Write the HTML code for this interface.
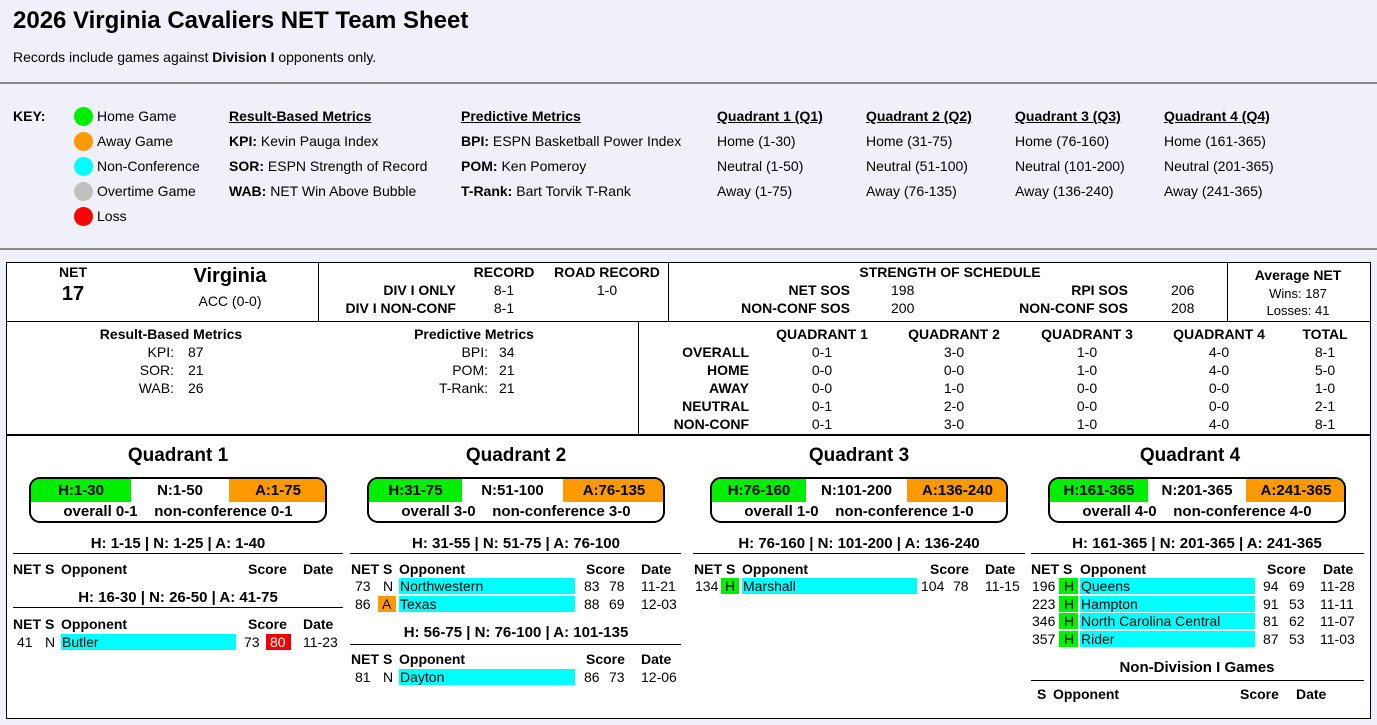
<!DOCTYPE html>
<html><head><meta charset="utf-8">
<style>
*{margin:0;padding:0;box-sizing:border-box}
body{width:1377px;height:725px;background:#f0f0fa;font-family:"Liberation Sans",sans-serif;font-size:14px;color:#000;position:relative;overflow:hidden}
.a{position:absolute;white-space:nowrap;line-height:18px}
.b{font-weight:bold}
.c{text-align:center;width:300px}
.r{text-align:right;width:300px}
.u{text-decoration:underline}
.rh{font-size:15px}
.dot{position:absolute;width:19px;height:19px;border-radius:50%;left:74px}
.hl{position:absolute;height:2px;background:#888;left:0;width:1377px}
.ln{position:absolute;background:#000}
.bar{position:absolute;background:#00ffff;height:16px}
.pill{position:absolute;border:2px solid #000;border-radius:11px;background:#fff;height:46px;overflow:hidden}
.seg{position:absolute;top:0;height:23px;line-height:23px;text-align:center;font-weight:bold;font-size:15px}
.sub{position:absolute;top:23px;height:20px;line-height:20px;width:100%;text-align:center;font-weight:bold;font-size:15px}
</style></head><body>
<div class="a b" style="left:13px;top:7px;font-size:24px;line-height:28px">2026 Virginia Cavaliers NET Team Sheet</div>
<div class="a" style="left:13px;top:48px">Records include games against <b>Division I</b> opponents only.</div>
<div class="hl" style="top:82px"></div>
<div class="hl" style="top:248px"></div>

<div class="a b" style="left:13px;top:107px">KEY:</div>
<div class="dot" style="top:107px;background:#00ee00"></div>
<div class="dot" style="top:132px;background:#ff9900"></div>
<div class="dot" style="top:157px;background:#00ffff"></div>
<div class="dot" style="top:182px;background:#c0c0c0"></div>
<div class="dot" style="top:207px;background:#ff0000"></div>
<div class="a" style="left:97px;top:107px">Home Game</div>
<div class="a" style="left:97px;top:132px">Away Game</div>
<div class="a" style="left:97px;top:157px">Non-Conference</div>
<div class="a" style="left:97px;top:182px">Overtime Game</div>
<div class="a" style="left:97px;top:207px">Loss</div>

<div class="a b u" style="left:229px;top:107px">Result-Based Metrics</div>
<div class="a" style="left:229px;top:132px"><b>KPI:</b> Kevin Pauga Index</div>
<div class="a" style="left:229px;top:157px"><b>SOR:</b> ESPN Strength of Record</div>
<div class="a" style="left:229px;top:182px"><b>WAB:</b> NET Win Above Bubble</div>
<div class="a b u" style="left:461px;top:107px">Predictive Metrics</div>
<div class="a" style="left:461px;top:132px"><b>BPI:</b> ESPN Basketball Power Index</div>
<div class="a" style="left:461px;top:157px"><b>POM:</b> Ken Pomeroy</div>
<div class="a" style="left:461px;top:182px"><b>T-Rank:</b> Bart Torvik T-Rank</div>

<div class="a b u" style="left:717px;top:107px">Quadrant 1 (Q1)</div>
<div class="a" style="left:717px;top:132px">Home (1-30)</div>
<div class="a" style="left:717px;top:157px">Neutral (1-50)</div>
<div class="a" style="left:717px;top:182px">Away (1-75)</div>
<div class="a b u" style="left:866px;top:107px">Quadrant 2 (Q2)</div>
<div class="a" style="left:866px;top:132px">Home (31-75)</div>
<div class="a" style="left:866px;top:157px">Neutral (51-100)</div>
<div class="a" style="left:866px;top:182px">Away (76-135)</div>
<div class="a b u" style="left:1015px;top:107px">Quadrant 3 (Q3)</div>
<div class="a" style="left:1015px;top:132px">Home (76-160)</div>
<div class="a" style="left:1015px;top:157px">Neutral (101-200)</div>
<div class="a" style="left:1015px;top:182px">Away (136-240)</div>
<div class="a b u" style="left:1164px;top:107px">Quadrant 4 (Q4)</div>
<div class="a" style="left:1164px;top:132px">Home (161-365)</div>
<div class="a" style="left:1164px;top:157px">Neutral (201-365)</div>
<div class="a" style="left:1164px;top:182px">Away (241-365)</div>

<div style="position:absolute;left:6px;top:262px;width:1365px;height:457px;background:#fff;border:1px solid #000"></div>
<div class="ln" style="left:6px;top:321px;width:1365px;height:1px"></div>
<div class="ln" style="left:6px;top:434px;width:1365px;height:2px"></div>
<div class="ln" style="left:318px;top:262px;width:1px;height:59px"></div>
<div class="ln" style="left:668px;top:262px;width:1px;height:59px"></div>
<div class="ln" style="left:1227px;top:262px;width:1px;height:59px"></div>
<div class="ln" style="left:638px;top:321px;width:1px;height:114px"></div>

<div class="a b c" style="left:-77px;top:263px">NET</div>
<div class="a b c" style="left:-77px;top:283px;font-size:20px;line-height:22px">17</div>
<div class="a b c" style="left:80px;top:265px;font-size:20px;line-height:22px">Virginia</div>
<div class="a c" style="left:80px;top:292px">ACC (0-0)</div>
<div class="a b c" style="left:354px;top:263px">RECORD</div>
<div class="a b c" style="left:457px;top:263px">ROAD RECORD</div>
<div class="a b r" style="left:156px;top:281px">DIV I ONLY</div>
<div class="a b r" style="left:156px;top:299px">DIV I NON-CONF</div>
<div class="a c" style="left:354px;top:281px">8-1</div>
<div class="a c" style="left:354px;top:299px">8-1</div>
<div class="a c" style="left:457px;top:281px">1-0</div>
<div class="a b c" style="left:800px;top:263px">STRENGTH OF SCHEDULE</div>
<div class="a b r" style="left:550px;top:281px">NET SOS</div>
<div class="a b r" style="left:550px;top:299px">NON-CONF SOS</div>
<div class="a" style="left:891px;top:281px">198</div>
<div class="a" style="left:891px;top:299px">200</div>
<div class="a b r" style="left:828px;top:281px">RPI SOS</div>
<div class="a b r" style="left:828px;top:299px">NON-CONF SOS</div>
<div class="a" style="left:1171px;top:281px">206</div>
<div class="a" style="left:1171px;top:299px">208</div>
<div class="a b c" style="left:1148px;top:266px">Average NET</div>
<div class="a c" style="left:1148px;top:285px;font-size:13px">Wins: 187</div>
<div class="a c" style="left:1148px;top:302px;font-size:13px">Losses: 41</div>

<div class="a b c" style="left:21px;top:325px">Result-Based Metrics</div>
<div class="a r" style="left:-126px;top:343px">KPI:</div>
<div class="a r" style="left:-126px;top:361px">SOR:</div>
<div class="a r" style="left:-126px;top:379px">WAB:</div>
<div class="a" style="left:188px;top:343px">87</div>
<div class="a" style="left:188px;top:361px">21</div>
<div class="a" style="left:188px;top:379px">26</div>
<div class="a b c" style="left:324px;top:325px">Predictive Metrics</div>
<div class="a r" style="left:188px;top:343px">BPI:</div>
<div class="a r" style="left:188px;top:361px">POM:</div>
<div class="a r" style="left:188px;top:379px">T-Rank:</div>
<div class="a" style="left:499px;top:343px">34</div>
<div class="a" style="left:499px;top:361px">21</div>
<div class="a" style="left:499px;top:379px">21</div>

<div class="a b c" style="left:672px;top:325px">QUADRANT 1</div>
<div class="a b c" style="left:804px;top:325px">QUADRANT 2</div>
<div class="a b c" style="left:937px;top:325px">QUADRANT 3</div>
<div class="a b c" style="left:1069px;top:325px">QUADRANT 4</div>
<div class="a b c" style="left:1175px;top:325px">TOTAL</div>
<div class="a b r" style="left:449px;top:343px">OVERALL</div>
<div class="a b r" style="left:449px;top:361px">HOME</div>
<div class="a b r" style="left:449px;top:379px">AWAY</div>
<div class="a b r" style="left:449px;top:397px">NEUTRAL</div>
<div class="a b r" style="left:449px;top:415px">NON-CONF</div>
<div class="a c" style="left:672px;top:343px">0-1<br>0-0<br>0-0<br>0-1<br>0-1</div>
<div class="a c" style="left:804px;top:343px">3-0<br>0-0<br>1-0<br>2-0<br>3-0</div>
<div class="a c" style="left:937px;top:343px">1-0<br>1-0<br>0-0<br>0-0<br>1-0</div>
<div class="a c" style="left:1069px;top:343px">4-0<br>4-0<br>0-0<br>0-0<br>4-0</div>
<div class="a c" style="left:1175px;top:343px">8-1<br>5-0<br>1-0<br>2-1<br>8-1</div>

<div class="a b c" style="left:28px;top:445px;font-size:19px;line-height:22px">Quadrant 1</div>
<div class="a b c" style="left:366px;top:445px;font-size:19px;line-height:22px">Quadrant 2</div>
<div class="a b c" style="left:709px;top:445px;font-size:19px;line-height:22px">Quadrant 3</div>
<div class="a b c" style="left:1040px;top:445px;font-size:19px;line-height:22px">Quadrant 4</div>

<div class="pill" style="left:29px;top:477px;width:298px"><div class="seg" style="left:0;width:100px;background:#00ee00">H:1-30</div><div class="seg" style="left:100px;width:98px">N:1-50</div><div class="seg" style="left:198px;width:98px;background:#ff9900">A:1-75</div><div class="sub">overall 0-1&nbsp;&nbsp;&nbsp; non-conference 0-1</div></div>
<div class="pill" style="left:367px;top:477px;width:298px"><div class="seg" style="left:0;width:93px;background:#00ee00">H:31-75</div><div class="seg" style="left:93px;width:101px">N:51-100</div><div class="seg" style="left:194px;width:102px;background:#ff9900">A:76-135</div><div class="sub">overall 3-0&nbsp;&nbsp;&nbsp; non-conference 3-0</div></div>
<div class="pill" style="left:710px;top:477px;width:298px"><div class="seg" style="left:0;width:94px;background:#00ee00">H:76-160</div><div class="seg" style="left:94px;width:101px">N:101-200</div><div class="seg" style="left:195px;width:101px;background:#ff9900">A:136-240</div><div class="sub">overall 1-0&nbsp;&nbsp;&nbsp; non-conference 1-0</div></div>
<div class="pill" style="left:1048px;top:477px;width:298px"><div class="seg" style="left:0;width:98px;background:#00ee00">H:161-365</div><div class="seg" style="left:98px;width:98px">N:201-365</div><div class="seg" style="left:196px;width:100px;background:#ff9900">A:241-365</div><div class="sub">overall 4-0&nbsp;&nbsp;&nbsp; non-conference 4-0</div></div>

<div class="a b c rh" style="left:28px;top:535px">H: 1-15 | N: 1-25 | A: 1-40</div>
<div class="ln" style="left:13px;top:553px;width:330px;height:1px"></div>
<div class="a b" style="left:13px;top:560px">NET</div><div class="a b" style="left:45px;top:560px">S</div><div class="a b" style="left:61px;top:560px">Opponent</div><div class="a b" style="left:248px;top:560px">Score</div><div class="a b" style="left:303px;top:560px">Date</div>
<div class="a b c rh" style="left:28px;top:589px">H: 16-30 | N: 26-50 | A: 41-75</div>
<div class="ln" style="left:13px;top:607px;width:330px;height:1px"></div>
<div class="a b" style="left:13px;top:615px">NET</div><div class="a b" style="left:45px;top:615px">S</div><div class="a b" style="left:61px;top:615px">Opponent</div><div class="a b" style="left:248px;top:615px">Score</div><div class="a b" style="left:303px;top:615px">Date</div>
<div class="a" style="left:17px;top:633px">41</div><div class="a" style="left:45px;top:633px">N</div>
<div class="bar" style="left:61px;top:634px;width:175px"></div><div class="a" style="left:62px;top:633px">Butler</div>
<div class="a" style="left:244px;top:633px">73</div>
<div style="position:absolute;left:266px;top:634px;width:25px;height:16px;background:#ee0000"></div><div class="a" style="left:270px;top:633px;color:#fff">80</div>
<div class="a" style="left:303px;top:633px">11-23</div>

<div class="a b c rh" style="left:366px;top:535px">H: 31-55 | N: 51-75 | A: 76-100</div>
<div class="ln" style="left:350px;top:553px;width:331px;height:1px"></div>
<div class="a b" style="left:351px;top:560px">NET</div><div class="a b" style="left:383px;top:560px">S</div><div class="a b" style="left:399px;top:560px">Opponent</div><div class="a b" style="left:586px;top:560px">Score</div><div class="a b" style="left:641px;top:560px">Date</div>
<div class="a" style="left:355px;top:577px">73</div><div class="a" style="left:383px;top:577px">N</div>
<div class="bar" style="left:399px;top:578px;width:176px"></div><div class="a" style="left:400px;top:577px">Northwestern</div>
<div class="a" style="left:584px;top:577px">83</div><div class="a" style="left:609px;top:577px">78</div><div class="a" style="left:641px;top:577px">11-21</div>
<div class="a" style="left:355px;top:595px">86</div>
<div style="position:absolute;left:378px;top:596px;width:18px;height:16px;background:#ff9900"></div><div class="a" style="left:382px;top:595px">A</div>
<div class="bar" style="left:399px;top:596px;width:176px"></div><div class="a" style="left:400px;top:595px">Texas</div>
<div class="a" style="left:584px;top:595px">88</div><div class="a" style="left:609px;top:595px">69</div><div class="a" style="left:641px;top:595px">12-03</div>
<div class="a b c rh" style="left:366px;top:624px">H: 56-75 | N: 76-100 | A: 101-135</div>
<div class="ln" style="left:350px;top:644px;width:331px;height:1px"></div>
<div class="a b" style="left:351px;top:650px">NET</div><div class="a b" style="left:383px;top:650px">S</div><div class="a b" style="left:399px;top:650px">Opponent</div><div class="a b" style="left:586px;top:650px">Score</div><div class="a b" style="left:641px;top:650px">Date</div>
<div class="a" style="left:355px;top:668px">81</div><div class="a" style="left:383px;top:668px">N</div>
<div class="bar" style="left:399px;top:669px;width:176px"></div><div class="a" style="left:400px;top:668px">Dayton</div>
<div class="a" style="left:584px;top:668px">86</div><div class="a" style="left:609px;top:668px">73</div><div class="a" style="left:641px;top:668px">12-06</div>

<div class="a b c rh" style="left:709px;top:535px">H: 76-160 | N: 101-200 | A: 136-240</div>
<div class="ln" style="left:693px;top:553px;width:332px;height:1px"></div>
<div class="a b" style="left:694px;top:560px">NET</div><div class="a b" style="left:726px;top:560px">S</div><div class="a b" style="left:742px;top:560px">Opponent</div><div class="a b" style="left:930px;top:560px">Score</div><div class="a b" style="left:985px;top:560px">Date</div>
<div class="a" style="left:695px;top:577px">134</div>
<div style="position:absolute;left:721px;top:578px;width:18px;height:16px;background:#00ee00"></div><div class="a" style="left:725px;top:577px">H</div>
<div class="bar" style="left:742px;top:578px;width:175px"></div><div class="a" style="left:743px;top:577px">Marshall</div>
<div class="a" style="left:921px;top:577px">104</div><div class="a" style="left:953px;top:577px">78</div><div class="a" style="left:985px;top:577px">11-15</div>

<div class="a b c rh" style="left:1047px;top:535px">H: 161-365 | N: 201-365 | A: 241-365</div>
<div class="ln" style="left:1031px;top:553px;width:333px;height:1px"></div>
<div class="a b" style="left:1031px;top:560px">NET</div><div class="a b" style="left:1063px;top:560px">S</div><div class="a b" style="left:1080px;top:560px">Opponent</div><div class="a b" style="left:1267px;top:560px">Score</div><div class="a b" style="left:1323px;top:560px">Date</div>

<div class="a" style="left:1032px;top:577px">196</div><div style="position:absolute;left:1059px;top:578px;width:19px;height:16px;background:#00ee00"></div><div class="a" style="left:1064px;top:577px">H</div><div class="bar" style="left:1080px;top:578px;width:175px"></div><div class="a" style="left:1081px;top:577px">Queens</div><div class="a" style="left:1263px;top:577px">94</div><div class="a" style="left:1289px;top:577px">69</div><div class="a" style="left:1320px;top:577px">11-28</div>
<div class="a" style="left:1032px;top:595px">223</div><div style="position:absolute;left:1059px;top:596px;width:19px;height:16px;background:#00ee00"></div><div class="a" style="left:1064px;top:595px">H</div><div class="bar" style="left:1080px;top:596px;width:175px"></div><div class="a" style="left:1081px;top:595px">Hampton</div><div class="a" style="left:1263px;top:595px">91</div><div class="a" style="left:1289px;top:595px">53</div><div class="a" style="left:1320px;top:595px">11-11</div>
<div class="a" style="left:1032px;top:612px">346</div><div style="position:absolute;left:1059px;top:613px;width:19px;height:16px;background:#00ee00"></div><div class="a" style="left:1064px;top:612px">H</div><div class="bar" style="left:1080px;top:613px;width:175px"></div><div class="a" style="left:1081px;top:612px">North Carolina Central</div><div class="a" style="left:1263px;top:612px">81</div><div class="a" style="left:1289px;top:612px">62</div><div class="a" style="left:1320px;top:612px">11-07</div>
<div class="a" style="left:1032px;top:630px">357</div><div style="position:absolute;left:1059px;top:631px;width:19px;height:16px;background:#00ee00"></div><div class="a" style="left:1064px;top:630px">H</div><div class="bar" style="left:1080px;top:631px;width:175px"></div><div class="a" style="left:1081px;top:630px">Rider</div><div class="a" style="left:1263px;top:630px">87</div><div class="a" style="left:1289px;top:630px">53</div><div class="a" style="left:1320px;top:630px">11-03</div>

<div class="a b c rh" style="left:1047px;top:659px">Non-Division I Games</div>
<div class="ln" style="left:1031px;top:680px;width:333px;height:1px"></div>
<div class="a b" style="left:1037px;top:685px">S</div><div class="a b" style="left:1053px;top:685px">Opponent</div><div class="a b" style="left:1240px;top:685px">Score</div><div class="a b" style="left:1296px;top:685px">Date</div>
</body></html>
